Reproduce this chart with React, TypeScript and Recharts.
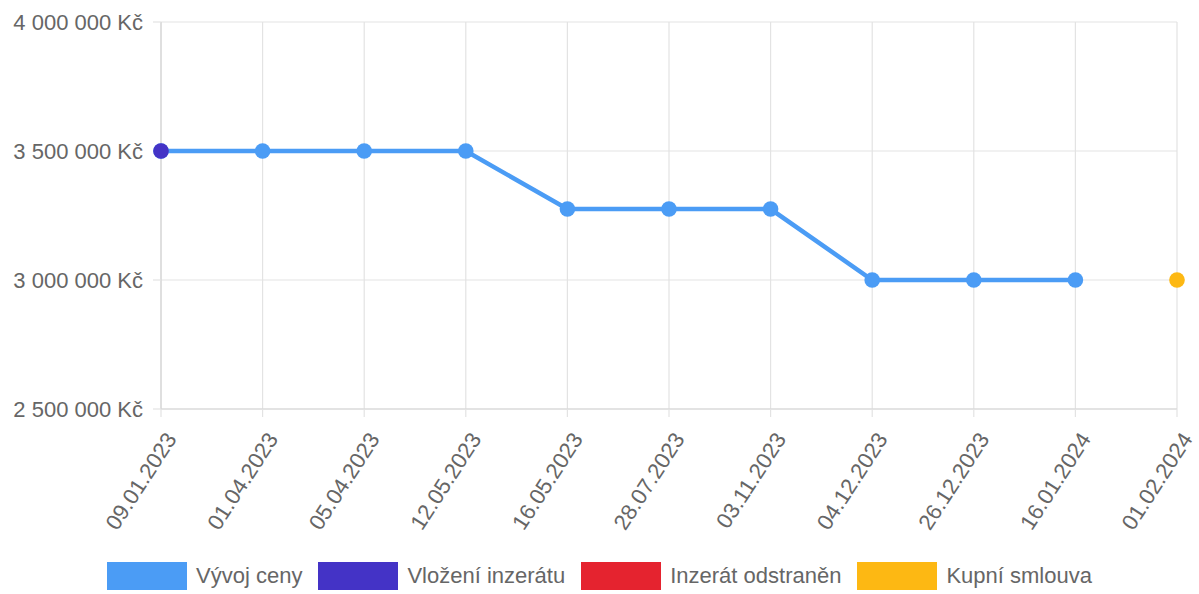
import React from "react";
import { LineChart, Line, XAxis, YAxis, CartesianGrid } from "recharts";

// Dates of recorded price changes
const dates = [
  "09.01.2023",
  "01.04.2023",
  "05.04.2023",
  "12.05.2023",
  "16.05.2023",
  "28.07.2023",
  "03.11.2023",
  "04.12.2023",
  "26.12.2023",
  "16.01.2024",
  "01.02.2024",
];

// Asking price history (Kč)
const priceHistory = [
  3500000, 3500000, 3500000, 3500000, 3275000, 3275000, 3275000, 3000000, 3000000, 3000000, null,
];
// Listing published
const listingPublished = [3500000, null, null, null, null, null, null, null, null, null, null];
// Listing removed (no events)
const listingRemoved = [null, null, null, null, null, null, null, null, null, null, null];
// Purchase contract signed
const purchaseContract = [null, null, null, null, null, null, null, null, null, null, 3000000];

const yTicks = [2500000, 3000000, 3500000, 4000000];

const seriesNames = ["Vývoj ceny", "Vložení inzerátu", "Inzerát odstraněn", "Kupní smlouva"];
const seriesColors = ["#4b9cf5", "#4433c6", "#e5232f", "#fdb813"];

const data = dates.map((d, i) => ({
  date: d,
  price: priceHistory[i],
  listed: listingPublished[i],
  removed: listingRemoved[i],
  contract: purchaseContract[i],
}));

const FONT = '"Liberation Sans", Arial, Helvetica, sans-serif';
const TEXT = "#666666";
const GRID = "#e3e3e3";
const FS = 22;

const formatKc = (v: number) =>
  String(v).replace(/\B(?=(\d{3})+(?!\d))/g, " ") + " Kč";

const DateTick = (props: any) => {
  const { x, y, payload } = props;
  return (
    <text
      transform={`translate(${x + 10},${y + 16}) rotate(-57)`}
      textAnchor="end"
      dominantBaseline="central"
      fill={TEXT}
      fontSize={FS}
      fontFamily={FONT}
    >
      {payload.value}
    </text>
  );
};

export default function App() {
  return (
    <div style={{ position: "absolute", left: 0, top: 0, width: 1199, height: 594, background: "#fff" }}>
      <LineChart
        width={1199}
        height={594}
        data={data}
        margin={{ top: 22, right: 22, bottom: 55, left: 0 }}
      >
        <CartesianGrid stroke={GRID} strokeWidth={1.2} />
        <XAxis
          dataKey="date"
          interval={0}
          height={130}
          tickSize={8}
          tickLine={{ stroke: GRID, strokeWidth: 1.2 }}
          axisLine={{ stroke: "#d6d6d6", strokeWidth: 1.2 }}
          tick={<DateTick />}
        />
        <YAxis
          width={161}
          domain={[2500000, 4000000]}
          ticks={yTicks}
          tickFormatter={formatKc}
          tickSize={8}
          tickMargin={10}
          tickLine={{ stroke: GRID, strokeWidth: 1.2 }}
          axisLine={{ stroke: "#d6d6d6", strokeWidth: 1.2 }}
          tick={{ fill: TEXT, fontSize: FS, fontFamily: FONT }}
        />
        <Line
          dataKey="price"
          name={seriesNames[0]}
          stroke={seriesColors[0]}
          strokeWidth={4.5}
          dot={{ r: 7.8, fill: seriesColors[0], stroke: seriesColors[0], strokeWidth: 0 }}
          isAnimationActive={false}
        />
        <Line
          dataKey="removed"
          name={seriesNames[2]}
          stroke="none"
          dot={{ r: 7.8, fill: seriesColors[2], stroke: "none" }}
          isAnimationActive={false}
        />
        <Line
          dataKey="listed"
          name={seriesNames[1]}
          stroke="none"
          dot={{ r: 7.8, fill: seriesColors[1], stroke: "none" }}
          isAnimationActive={false}
        />
        <Line
          dataKey="contract"
          name={seriesNames[3]}
          stroke="none"
          dot={{ r: 7.8, fill: seriesColors[3], stroke: "none" }}
          isAnimationActive={false}
        />
      </LineChart>
      <div
        style={{
          position: "absolute",
          left: 0,
          top: 562,
          width: 1199,
          display: "flex",
          justifyContent: "center",
          alignItems: "center",
          fontFamily: FONT,
          fontSize: FS,
          color: TEXT,
        }}
      >
        {seriesNames.map((n, i) => (
          <div key={n} style={{ display: "flex", alignItems: "center", marginRight: i < seriesNames.length - 1 ? 16 : 0 }}>
            <span style={{ display: "inline-block", width: 80, height: 28, background: seriesColors[i], marginRight: 9 }} />
            <span>{n}</span>
          </div>
        ))}
      </div>
    </div>
  );
}
